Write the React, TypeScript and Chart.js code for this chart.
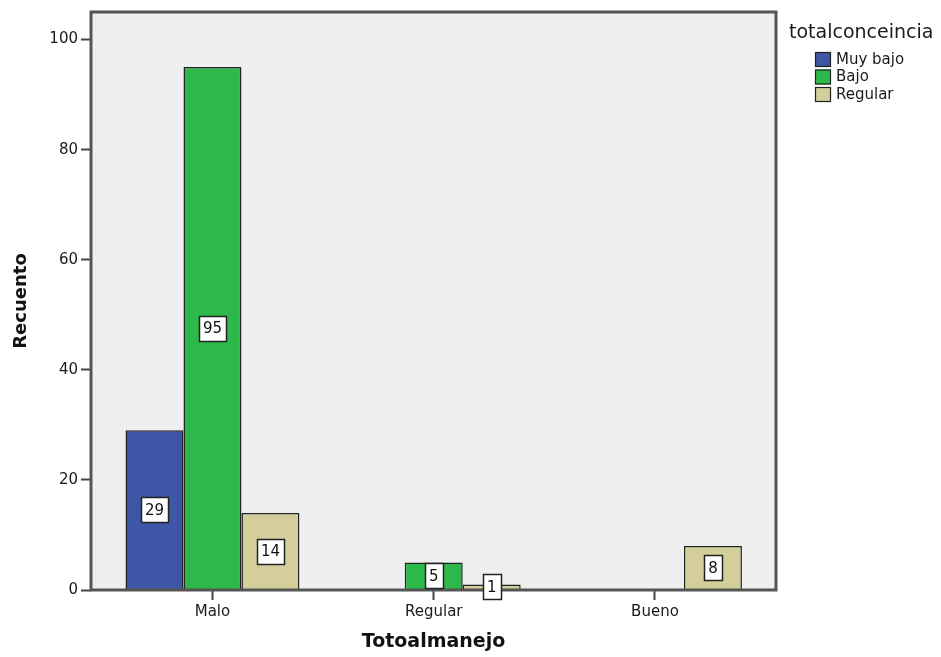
import React, { useEffect, useRef } from 'react';
import { Chart, registerables } from 'chart.js';

Chart.register(...registerables);

const categories = ['Malo', 'Regular', 'Bueno'];
const seriesNames = ['Muy bajo', 'Bajo', 'Regular'];
const muyBajo: (number | null)[] = [29, null, null];
const bajo: (number | null)[] = [95, 5, null];
const regular: (number | null)[] = [14, 1, 8];
const yTicks = [0, 20, 40, 60, 80, 100];
const seriesColors = ['#3d56a6', '#2db84b', '#d4cf9a'];
const xTitle = 'Totoalmanejo';
const yTitle = 'Recuento';
const legendTitle = 'totalconceincia';

const FONT = '"DejaVu Sans", "Liberation Sans", Arial, sans-serif';
const TEXT = '#1a1a1a';
const LINE = '#555555';

const seriesData = [muyBajo, bajo, regular];

const backgroundPlugin = {
  id: 'plotBackground',
  beforeDatasetsDraw(chart: any) {
    const { ctx, chartArea: a } = chart;
    ctx.save();
    ctx.fillStyle = '#efefef';
    ctx.fillRect(a.left, a.top, a.right - a.left, a.bottom - a.top);
    ctx.restore();
  },
};

const frameAndLabelsPlugin = {
  id: 'frameAndLabels',
  afterDatasetsDraw(chart: any) {
    const { ctx, chartArea: a } = chart;
    ctx.save();
    ctx.strokeStyle = LINE;
    ctx.lineWidth = 3;
    ctx.strokeRect(a.left, a.top, a.right - a.left, a.bottom - a.top);

    ctx.font = `15px ${FONT}`;
    ctx.textAlign = 'center';
    ctx.textBaseline = 'middle';
    chart.data.datasets.forEach((ds: any, i: number) => {
      const meta = chart.getDatasetMeta(i);
      meta.data.forEach((el: any, j: number) => {
        const v = ds.data[j];
        if (v == null) return;
        const p = el.getProps(['x', 'y', 'base'], true);
        const cy = (p.y + p.base) / 2;
        const text = String(v);
        const w = Math.round(ctx.measureText(text).width + 8);
        const h = 25;
        const bx = Math.round(p.x - w / 2) + 0.5;
        const by = Math.round(cy - h / 2) + 0.5;
        ctx.fillStyle = '#ffffff';
        ctx.fillRect(bx, by, w, h);
        ctx.strokeStyle = '#222222';
        ctx.lineWidth = 1.5;
        ctx.strokeRect(bx, by, w, h);
        ctx.fillStyle = '#111111';
        ctx.fillText(text, p.x, cy + 1);
      });
    });
    ctx.restore();
  },
};

const legendPlugin = {
  id: 'customLegend',
  afterDraw(chart: any) {
    const { ctx, chartArea: a } = chart;
    ctx.save();
    const x0 = a.right + 13;
    ctx.fillStyle = TEXT;
    ctx.textAlign = 'left';
    ctx.textBaseline = 'middle';
    ctx.font = `19px ${FONT}`;
    ctx.fillText(legendTitle, x0, a.top + 21);
    ctx.font = `15px ${FONT}`;
    seriesNames.forEach((name, i) => {
      const sy = a.top + 40 + i * 17.5;
      ctx.fillStyle = seriesColors[i];
      ctx.fillRect(x0 + 26, sy, 16, 15);
      ctx.strokeStyle = '#222222';
      ctx.lineWidth = 1.2;
      ctx.strokeRect(x0 + 26.5, sy + 0.5, 15, 14);
      ctx.fillStyle = TEXT;
      ctx.fillText(name, x0 + 47, sy + 8);
    });
    ctx.restore();
  },
};

export default function App() {
  const ref = useRef<HTMLCanvasElement | null>(null);

  useEffect(() => {
    if (!ref.current) return;
    const chart = new Chart(ref.current, {
      type: 'bar',
      data: {
        labels: categories,
        datasets: seriesNames.map((name, i) => ({
          label: name,
          data: seriesData[i],
          backgroundColor: seriesColors[i],
          borderColor: '#222222',
          borderWidth: 1.5,
          categoryPercentage: 0.786,
          barPercentage: 1,
        })),
      },
      options: {
        responsive: false,
        animation: false,
        devicePixelRatio: 1,
        layout: { padding: { top: 10, right: 165, left: 0, bottom: 0 } },
        plugins: {
          legend: { display: false },
          tooltip: { enabled: false },
        },
        scales: {
          x: {
            type: 'category',
            offset: true,
            afterBuildTicks: (s: any) => {
              s._startValue = -0.549;
              s._valueRange = 3.096;
            },
            afterFit: (s: any) => {
              s.height = 67;
            },
            grid: {
              offset: false,
              drawOnChartArea: false,
              drawTicks: true,
              tickLength: 10,
              tickColor: '#444444',
              tickWidth: 2,
            },
            border: { display: false },
            ticks: { color: TEXT, font: { family: FONT, size: 15 }, padding: 3 },
            title: {
              display: true,
              text: xTitle,
              color: '#111111',
              font: { family: FONT, size: 19, weight: 'bold' },
              padding: { top: 0, bottom: 4 },
            },
          },
          y: {
            min: 0,
            max: 105,
            afterBuildTicks: (s: any) => {
              s.ticks = yTicks.map((v) => ({ value: v }));
            },
            afterFit: (s: any) => {
              s.width = 91;
            },
            grid: {
              drawOnChartArea: false,
              drawTicks: true,
              tickLength: 10,
              tickColor: '#444444',
              tickWidth: 2,
            },
            border: { display: false },
            ticks: { color: TEXT, font: { family: FONT, size: 15 }, padding: 3 },
            title: {
              display: true,
              text: yTitle,
              color: '#111111',
              font: { family: FONT, size: 18, weight: 'bold' },
              padding: { top: 11, bottom: 0 },
            },
          },
        },
      },
      plugins: [backgroundPlugin, frameAndLabelsPlugin, legendPlugin],
    } as any);
    return () => chart.destroy();
  }, []);

  return (
    <div style={{ position: 'fixed', left: 0, top: 0, width: 941, height: 657, background: '#ffffff' }}>
      <canvas ref={ref} width={941} height={657} />
    </div>
  );
}
